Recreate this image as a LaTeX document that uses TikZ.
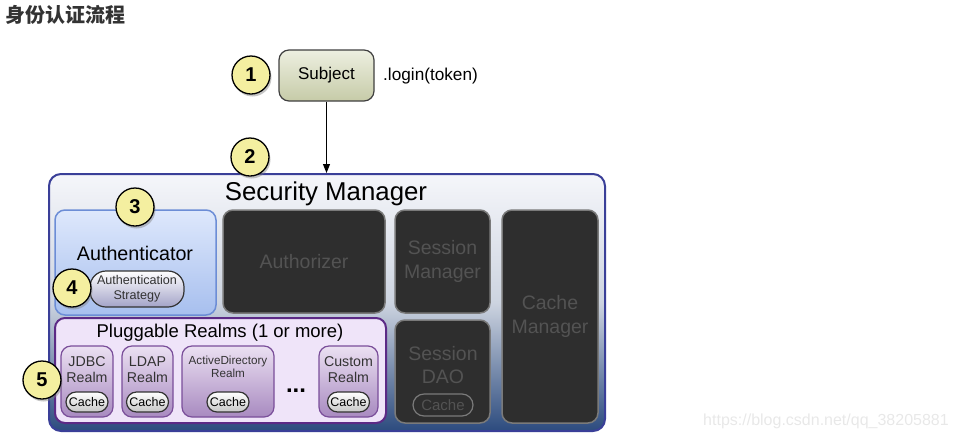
\documentclass[tikz,border=0pt]{standalone}
\usepackage{fontspec}
\setmainfont{Liberation Sans}
\newfontfamily\cjk{Noto Sans CJK SC}
\usetikzlibrary{arrows.meta,shadows}

\definecolor{numyellow}{HTML}{F4EFA0}
\definecolor{subjtop}{HTML}{EDEFE0}
\definecolor{subjbot}{HTML}{C6CBA8}
\definecolor{smborder}{HTML}{3A3F98}
\definecolor{smtop}{HTML}{F5F6FA}
\definecolor{smmid}{HTML}{CDD4E0}
\definecolor{smbot}{HTML}{2C4B7E}
\definecolor{authtop}{HTML}{DEE8FC}
\definecolor{authbot}{HTML}{A7BFEE}
\definecolor{authborder}{HTML}{6C8DD6}
\definecolor{darkfill}{HTML}{2E2E2E}
\definecolor{darkborder}{HTML}{7A7A7A}
\definecolor{darktext}{HTML}{535353}
\definecolor{realmsfill}{HTML}{EFE4F9}
\definecolor{realmsborder}{HTML}{5C2A86}
\definecolor{realmtop}{HTML}{EBE0F2}
\definecolor{realmbot}{HTML}{A88AC0}
\definecolor{realmborder}{HTML}{7A4E9A}

\tikzset{
  numcirc/.style={circle, draw=black, line width=1.3pt, fill=numyellow, minimum size=38pt,
    inner sep=0pt, font=\fontsize{20}{20}\selectfont\bfseries,
    drop shadow={shadow xshift=1.5pt, shadow yshift=-2.5pt, opacity=0.45}},
  darkbox/.style={rounded corners=10pt, draw=darkborder, line width=1.5pt, fill=darkfill,
    text=darktext, align=center, font=\fontsize{19.5}{24}\selectfont, inner sep=0pt},
  realm/.style={rounded corners=10pt, draw=realmborder, line width=1.2pt,
    top color=realmtop, bottom color=realmbot, inner sep=0pt, minimum height=71pt},
  cachepill/.style={rounded corners=10pt, draw=black!80, line width=1.2pt,
    top color=white, bottom color=black!22, minimum width=42pt, minimum height=20pt,
    inner sep=0pt, font=\fontsize{12.5}{12.5}\selectfont},
  realmtext/.style={align=center, text=black!80, font=\fontsize{14.2}{15.5}\selectfont}
}

\begin{document}
\begin{tikzpicture}[x=1pt, y=-1pt]
\useasboundingbox (0,0) rectangle (955,440);

\node[anchor=west, text=black!80, inner sep=0pt] (title) at (5,15) {\cjk\bfseries\fontsize{20}{20}\selectfont 身份认证流程};

% subject on top
\node[rounded corners=10pt, draw=black!75, line width=1.2pt, top color=subjtop, bottom color=subjbot,
  minimum width=95pt, minimum height=51pt, font=\fontsize{17}{17}\selectfont] (subject) at (326.5,75.5) {Subject};
\node[anchor=west, inner sep=0pt, font=\fontsize{17.2}{17.2}\selectfont] (login) at (383,76) {.login(token)};

% security manager
\node[rounded corners=12pt, draw=smborder, line width=2pt, top color=smtop, bottom color=smbot, middle color=smmid,
  minimum width=556pt, minimum height=257pt, inner sep=0pt] (secmgr) at (327,302.5) {};
\node[font=\fontsize{25.8}{25.8}\selectfont] (smtitle) at (326,194) {Security Manager};

\draw[line width=1pt, -{Triangle[length=9pt, width=7pt]}] (subject.south) -- (subject.south |- secmgr.north);

% authenticator
\node[rounded corners=10pt, draw=authborder, line width=1.5pt, top color=authtop, bottom color=authbot,
  minimum width=161pt, minimum height=105pt, inner sep=0pt] (authc) at (135.5,262.5) {};
\node[font=\fontsize{19.7}{19.7}\selectfont] (authctext) at (135,253) {Authenticator};
\node[rounded corners=16pt, draw=black!80, line width=1.2pt, top color=white, bottom color=black!10!blue!20!white!80!black,
  minimum width=94pt, minimum height=36pt, inner sep=0pt, align=center, text=black!80,
  font=\fontsize{12.6}{15}\selectfont] (strategy) at (137,289) {Authentication\\Strategy};

% dark boxes
\node[darkbox, minimum width=162pt, minimum height=103pt] (authz) at (304,261.5) {Authorizer};
\node[darkbox, minimum width=95pt, minimum height=103pt] (sessmgr) at (442.5,261.5) {Session\\Manager};
\node[darkbox, minimum width=96pt, minimum height=213pt] (cachemgr) at (550,316.5) {Cache\\Manager};
\node[darkbox, minimum width=95pt, minimum height=103pt] (sessdao) at (442.5,371.5) {};
\node[align=center, text=darktext, font=\fontsize{19.5}{23}\selectfont] (daotext) at (443,365) {Session\\DAO};
\node[rounded corners=11pt, draw=darkborder, line width=1.2pt, fill=darkfill, text=darktext,
  minimum width=60pt, minimum height=22pt, inner sep=0pt, font=\fontsize{15}{15}\selectfont] (daocache) at (443,405) {Cache};

% pluggable realms
\node[rounded corners=10pt, draw=realmsborder, line width=2pt, fill=realmsfill,
  minimum width=331pt, minimum height=105pt, inner sep=0pt] (realms) at (220.5,370.5) {};
\node[font=\fontsize{18.5}{18.5}\selectfont] (realmstext) at (220,333) {Pluggable Realms (1 or more)};

\node[realm, minimum width=52pt] (jdbc) at (87,381.5) {};
\node[realm, minimum width=51pt] (ldap) at (147.5,381.5) {};
\node[realm, minimum width=92pt] (ad) at (228,381.5) {};
\node[realm, minimum width=59pt] (custom) at (348.5,381.5) {};

\node[realmtext] (jdbctext) at (87,369.5) {JDBC\\Realm};
\node[realmtext] (ldaptext) at (147.5,369.5) {LDAP\\Realm};
\node[realmtext, font=\fontsize{11.7}{13.5}\selectfont] (adtext) at (228,367) {ActiveDirectory\\Realm};
\node[realmtext] (customtext) at (348.5,369.5) {Custom\\Realm};

\node[cachepill] (jdbccache) at (87,402) {Cache};
\node[cachepill] (ldapcache) at (147.5,402) {Cache};
\node[cachepill] (adcache) at (228,402) {Cache};
\node[cachepill] (customcache) at (348.5,402) {Cache};
\node[font=\fontsize{24}{24}\selectfont\bfseries] (dots) at (296,391) {...};

% numbered steps
\node[numcirc] (n1) at (251,75) {1};
\node[numcirc] (n2) at (250,157) {2};
\node[numcirc] (n3) at (135,207) {3};
\node[numcirc] (n4) at (72,288) {4};
\node[numcirc] (n5) at (42,380) {5};

\node[text=black!9, font=\fontsize{16}{16}\selectfont] (mark) at (826,421) {https://blog.csdn.net/qq\_38205881};
\end{tikzpicture}
\end{document}
